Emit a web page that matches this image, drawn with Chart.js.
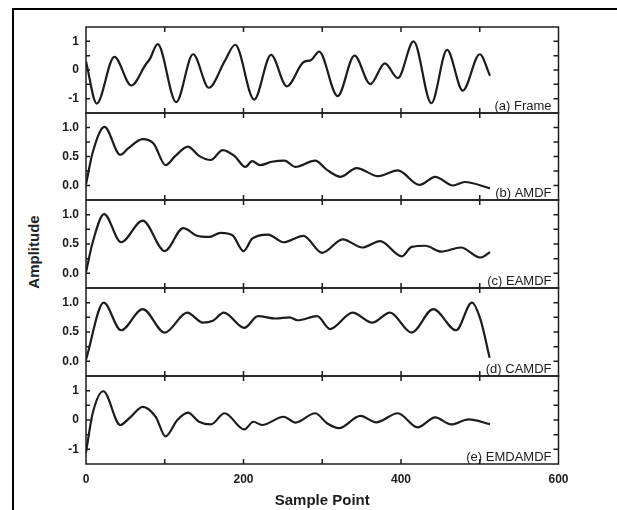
<!DOCTYPE html>
<html>
<head>
<meta charset="utf-8">
<script src="https://cdn.jsdelivr.net/npm/chart.js@4.4.1/dist/chart.umd.min.js"></script>
<style>
html, body { margin: 0; padding: 0; background: #fff; }
#wrap { position: relative; width: 617px; height: 510px; overflow: hidden; }
#frame { position: absolute; left: 12px; top: 8px; width: 640px; height: 540px; border-left: 2px solid #000; border-top: 2px solid #000; }
#wrap canvas { position: absolute; left: 0; }
#ylab { position: absolute; left: 33px; top: 252px; transform: translate(-50%, -50%) rotate(-90deg);
        font: bold 15px "Liberation Sans", Arial, sans-serif; color: #222; white-space: nowrap; }
</style>
</head>
<body>
<div id="wrap">
  <div id="frame"></div>
  <div id="ylab">Amplitude</div>
</div>
<script>
// values (sample point, amplitude)
const frameX = [0, 13.6, 36, 57.5, 76, 81, 91, 114.5, 136, 156, 176, 189.5, 213.5, 235, 255, 276, 286, 296, 319.5, 341, 361, 379.5, 396, 416, 438.5, 458.5, 478.5, 500, 513];
const frameY = [0.3, -1.17, 0.46, -0.54, 0.2, 0.38, 0.9, -1.12, 0.55, -0.62, 0.3, 0.88, -1.03, 0.53, -0.57, 0.27, 0.35, 0.64, -0.91, 0.5, -0.49, 0.23, -0.28, 1.0, -1.16, 0.7, -0.72, 0.55, -0.2];

const amdfX = [0, 8.5, 23.5, 43.5, 53.5, 72, 86, 101, 113.5, 129.5, 143.5, 158.5, 173.5, 188.5, 202.5, 211, 221, 236, 252, 266, 291, 306, 323.5, 343.5, 371, 396, 423.5, 443.5, 466, 481, 513];
const amdfY = [0.02, 0.57, 1.01, 0.53, 0.64, 0.8, 0.72, 0.35, 0.51, 0.67, 0.51, 0.44, 0.61, 0.51, 0.32, 0.42, 0.35, 0.41, 0.43, 0.32, 0.43, 0.27, 0.15, 0.3, 0.16, 0.26, 0.01, 0.15, 0.0, 0.06, -0.05];

const eamdfX = [0, 8.5, 23, 44.5, 72, 100, 123.5, 141, 156, 171, 186, 200, 211, 231, 251, 276, 300, 326, 351, 373.5, 401, 413.5, 431, 451, 476, 501, 513];
const eamdfY = [0.02, 0.53, 1.01, 0.53, 0.9, 0.38, 0.77, 0.64, 0.62, 0.69, 0.65, 0.38, 0.59, 0.66, 0.53, 0.64, 0.35, 0.58, 0.44, 0.55, 0.29, 0.45, 0.47, 0.37, 0.44, 0.27, 0.36];

const camdfX = [0, 22.5, 44.5, 72, 100, 128.5, 148.5, 161, 175, 201, 218.5, 241, 258.5, 268.5, 293.5, 310, 338.5, 363.5, 386, 413.5, 441, 470, 490, 501, 512.5];
const camdfY = [0.03, 1.0, 0.53, 0.89, 0.49, 0.83, 0.66, 0.69, 0.83, 0.57, 0.77, 0.73, 0.75, 0.7, 0.77, 0.55, 0.83, 0.66, 0.83, 0.49, 0.89, 0.53, 1.0, 0.71, 0.06];

const emdX = [0, 8.5, 22, 43.5, 56, 72, 88.5, 101, 116, 129.5, 143.5, 158.5, 176, 201, 212.5, 223.5, 251, 266, 291, 306, 321, 348.5, 368.5, 396, 421, 443.5, 463.5, 486, 513];
const emdY = [-1.1, 0.23, 0.98, -0.17, 0.09, 0.45, 0.11, -0.56, 0, 0.25, -0.06, -0.15, 0.23, -0.32, -0.06, -0.17, 0.11, -0.09, 0.23, -0.11, -0.28, 0.14, -0.08, 0.23, -0.25, 0.09, -0.15, 0.02, -0.14];

const xTickLabels = [0, 200, 400, 600];
const waveTicks = [-1, 0, 1];
const unitTicks = [0, 0.5, 1.0];

const panels = [
    { label: '(a) Frame',   xs: frameX, ys: frameY, top: 27,  bottom: 113, min: -1.5,  max: 1.5,  ticks: waveTicks, minor: 0.5,  digits: 0 },
    { label: '(b) AMDF',    xs: amdfX,  ys: amdfY,  top: 113, bottom: 200, min: -0.25, max: 1.25, ticks: unitTicks, minor: 0.25, digits: 1 },
    { label: '(c) EAMDF',   xs: eamdfX, ys: eamdfY, top: 200, bottom: 288, min: -0.25, max: 1.25, ticks: unitTicks, minor: 0.25, digits: 1 },
    { label: '(d) CAMDF',   xs: camdfX, ys: camdfY, top: 288, bottom: 376, min: -0.25, max: 1.25, ticks: unitTicks, minor: 0.25, digits: 1 },
    { label: '(e) EMDAMDF', xs: emdX,   ys: emdY,   top: 376, bottom: 464, min: -1.5,  max: 1.5,  ticks: waveTicks, minor: 0.5,  digits: 0 }
];

const INK = '#1c1c1c';
const PAD = 16; // room for chart.js label padding above/below each panel
const tickFont = { family: '"Liberation Sans", Arial, sans-serif', size: 12, weight: 'bold' };

// box, inward ticks on all four sides, panel caption
const panelDecor = {
    id: 'panelDecor',
    afterDatasetsDraw(chart, args, opts) {
        const { ctx, chartArea: a, scales: { x, y } } = chart;
        ctx.save();
        ctx.strokeStyle = INK;
        ctx.lineWidth = 1.5;
        ctx.strokeRect(a.left, a.top, a.right - a.left, a.bottom - a.top);
        ctx.beginPath();
        for (let v = 100; v < 600; v += 100) {
            const px = x.getPixelForValue(v);
            ctx.moveTo(px, a.bottom); ctx.lineTo(px, a.bottom - 5);
            ctx.moveTo(px, a.top); ctx.lineTo(px, a.top + 5);
        }
        const n = Math.round((opts.max - opts.min) / opts.minor);
        for (let i = 1; i < n; i++) {
            const py = y.getPixelForValue(opts.min + i * opts.minor);
            ctx.moveTo(a.left, py); ctx.lineTo(a.left + 4, py);
            ctx.moveTo(a.right, py); ctx.lineTo(a.right - 5, py);
        }
        ctx.stroke();
        ctx.fillStyle = INK;
        ctx.font = '13px "Liberation Sans", Arial, sans-serif';
        ctx.textAlign = 'right';
        ctx.textBaseline = 'alphabetic';
        ctx.fillText(opts.label, a.right - 7, a.bottom - 3.5);
        ctx.restore();
    }
};

const wrap = document.getElementById('wrap');

panels.forEach((p, i) => {
    const last = i === panels.length - 1;
    const canvas = document.createElement('canvas');
    const top = p.top - PAD;
    const height = last ? 510 - top : p.bottom - p.top + 2 * PAD;
    canvas.width = 617;
    canvas.height = height;
    canvas.style.top = top + 'px';
    canvas.style.width = '617px';
    canvas.style.height = height + 'px';
    wrap.appendChild(canvas);

    new Chart(canvas, {
        type: 'line',
        data: {
            datasets: [{
                data: p.xs.map((x, k) => ({ x, y: p.ys[k] })),
                borderColor: INK,
                borderWidth: 2.2,
                pointRadius: 0,
                cubicInterpolationMode: 'monotone',
                fill: false
            }]
        },
        options: {
            responsive: false,
            animation: false,
            devicePixelRatio: 1,
            layout: { autoPadding: false, padding: { left: 0, right: 617 - 558.5, top: PAD, bottom: last ? 0 : PAD } },
            plugins: {
                legend: { display: false },
                tooltip: { enabled: false },
                panelDecor: { label: p.label, min: p.min, max: p.max, minor: p.minor }
            },
            scales: {
                x: {
                    type: 'linear',
                    min: 0,
                    max: 600,
                    display: last,
                    grid: { display: false, drawTicks: false },
                    border: { display: false },
                    afterBuildTicks: s => { s.ticks = xTickLabels.map(v => ({ value: v })); },
                    afterFit: s => { s.height = last ? 46 : 0; },
                    ticks: { color: INK, font: tickFont, padding: 8, maxRotation: 0 },
                    title: {
                        display: true,
                        text: 'Sample Point',
                        color: INK,
                        font: { family: '"Liberation Sans", Arial, sans-serif', size: 15, weight: 'bold' },
                        padding: { top: 0, bottom: 0 }
                    }
                },
                y: {
                    min: p.min,
                    max: p.max,
                    grid: { display: false, drawTicks: false },
                    border: { display: false },
                    afterBuildTicks: s => { s.ticks = p.ticks.map(v => ({ value: v })); },
                    afterFit: s => { s.width = 86; },
                    ticks: {
                        color: INK,
                        font: tickFont,
                        padding: 7,
                        callback: v => p.digits ? v.toFixed(p.digits) : String(v)
                    }
                }
            }
        },
        plugins: [panelDecor]
    });
});
</script>
</body>
</html>
